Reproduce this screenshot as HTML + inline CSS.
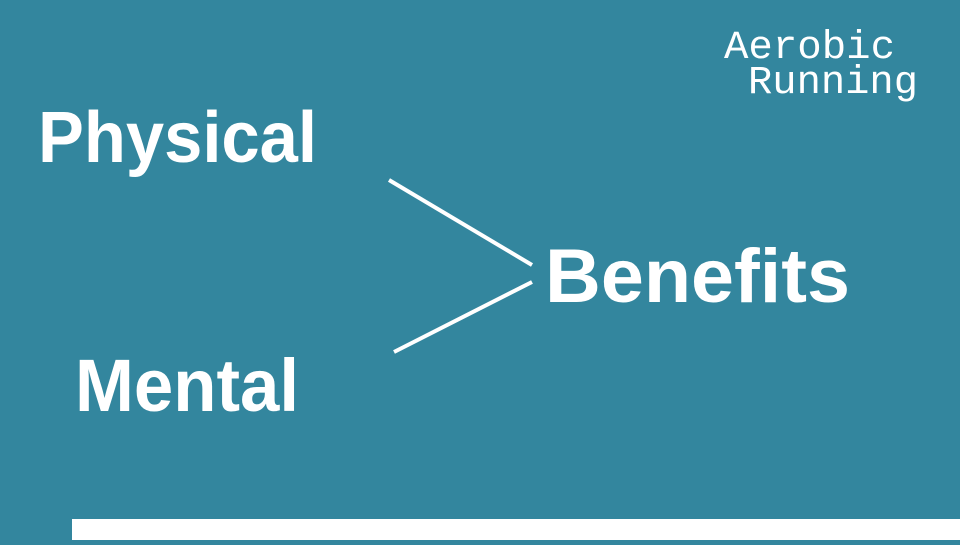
<!DOCTYPE html>
<html><head><meta charset="utf-8"><style>
html,body{margin:0;padding:0;}
body{width:960px;height:540px;overflow:hidden;background:#33869e;}
</style></head><body>
<svg width="960" height="540" viewBox="0 0 960 540" xmlns="http://www.w3.org/2000/svg">
<rect width="960" height="540" fill="#33869e"/>
<rect x="72" y="519" width="888" height="21" fill="#ffffff"/>
<g fill="#ffffff" font-family="'Liberation Sans','Noto Sans CJK JP',sans-serif" font-weight="bold">
<text x="38" y="162" font-size="72" textLength="279" lengthAdjust="spacingAndGlyphs">Physical</text>
<text x="545" y="302" font-size="76" textLength="305" lengthAdjust="spacingAndGlyphs">Benefits</text>
<text x="75" y="411" font-size="74" textLength="224" lengthAdjust="spacingAndGlyphs">Mental</text>
</g>
<g fill="#ffffff" font-family="'Liberation Mono',monospace" font-size="40">
<text x="724" y="58" textLength="171" lengthAdjust="spacingAndGlyphs">Aerobic</text>
<text x="748" y="93" textLength="170" lengthAdjust="spacingAndGlyphs">Running</text>
</g>
<g stroke="#ffffff" stroke-width="4" fill="none">
<line x1="389" y1="180" x2="532" y2="265"/>
<line x1="394" y1="352" x2="532" y2="282"/>
</g>
</svg>
</body></html>
